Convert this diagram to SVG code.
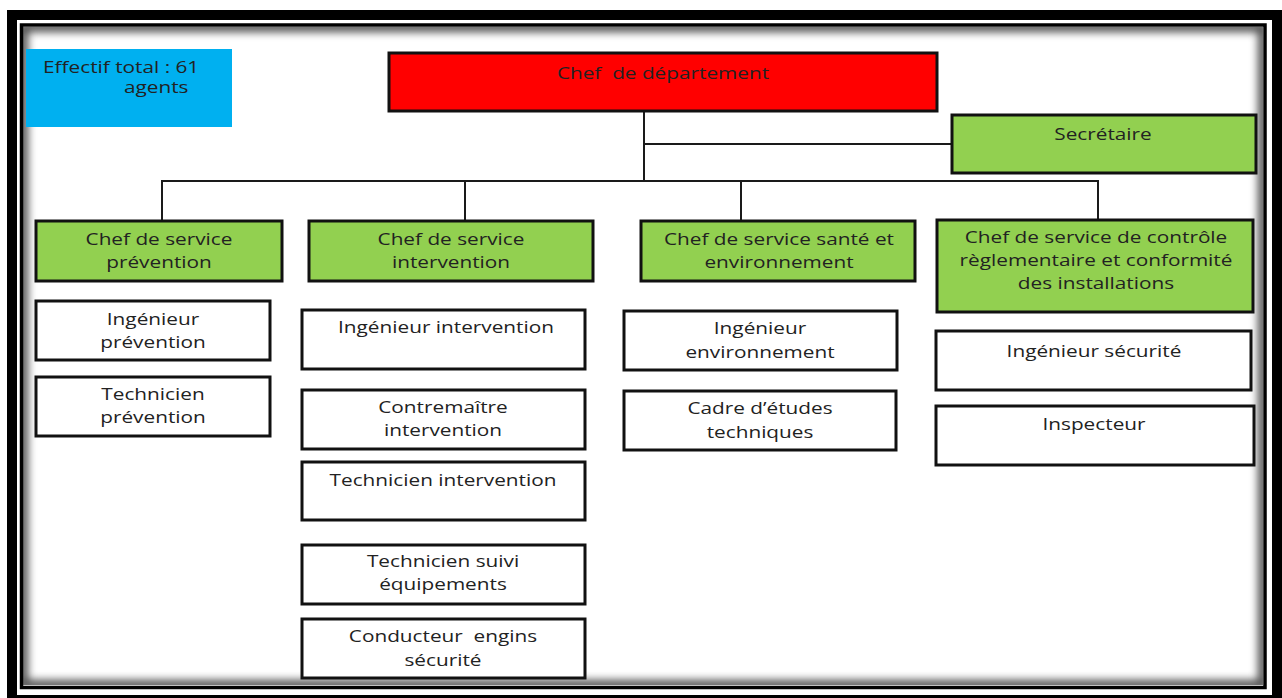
<svg xmlns="http://www.w3.org/2000/svg" width="1282" height="698" viewBox="0 0 1282 698">
<style>
text{font-family:"Open Sans","Noto Sans",sans-serif;font-size:16.5px;fill:#222;text-anchor:middle;white-space:pre}
.s{text-anchor:start}
.g{fill:#92D050;stroke:#111;stroke-width:3}
.w{fill:#fff;stroke:#111;stroke-width:3}
.c{fill:none;stroke:#1a1a1a;stroke-width:2}
</style>
<defs>
<clipPath id="inner"><rect x="23" y="27" width="1240" height="658"/></clipPath>
<filter id="blur" x="-5%" y="-5%" width="110%" height="110%"><feGaussianBlur stdDeviation="4"/></filter>
</defs>
<rect width="1282" height="698" fill="#fff"/>
<g id="frame">
<g clip-path="url(#inner)"><rect x="23" y="27" width="1240" height="658" fill="none" stroke="#000" stroke-width="10" filter="url(#blur)" opacity="0.7"/></g>
<rect x="12" y="15" width="1265" height="685" fill="none" stroke="#000" stroke-width="10"/>
<rect x="21.5" y="25" width="1243.5" height="662.5" fill="none" stroke="#000" stroke-width="3.5"/>
</g>
<g id="connectors">
<path class="c" d="M644 111V181M644 144H952M162 221V181H1098V220M465 181V221M741 181V221"/>
</g>
<g id="effectif">
<rect x="26" y="49" width="206" height="78" fill="#00B0F0"/>
<text class="s" transform="translate(43 73) scale(1.26 1)">Effectif total : 61</text>
<text class="s" transform="translate(124 93) scale(1.26 1)">agents</text>
</g>
<g id="chef-departement">
<rect x="389" y="53" width="548" height="58" fill="#FF0000" stroke="#111" stroke-width="3"/>
<text transform="translate(663 79) scale(1.26 1)">Chef  de département</text>
</g>
<g id="secretaire">
<rect class="g" x="952" y="115" width="304" height="58"/>
<text transform="translate(1103 140) scale(1.26 1)">Secrétaire</text>
</g>
<g id="cs-prevention">
<rect class="g" x="36" y="221" width="246" height="60"/>
<text transform="translate(159 245) scale(1.26 1)">Chef de service</text>
<text transform="translate(159 268) scale(1.26 1)">prévention</text>
</g>
<g id="cs-intervention">
<rect class="g" x="309" y="221" width="284" height="60"/>
<text transform="translate(451 245) scale(1.26 1)">Chef de service</text>
<text transform="translate(451 268) scale(1.26 1)">intervention</text>
</g>
<g id="cs-sante">
<rect class="g" x="641" y="221" width="274" height="60"/>
<text transform="translate(779 245) scale(1.26 1)">Chef de service santé et</text>
<text transform="translate(779 268) scale(1.26 1)">environnement</text>
</g>
<g id="cs-controle">
<rect class="g" x="937" y="220" width="316" height="92"/>
<text transform="translate(1096 243) scale(1.26 1)">Chef de service de contrôle</text>
<text transform="translate(1096 266) scale(1.26 1)">règlementaire et conformité</text>
<text transform="translate(1096 289) scale(1.26 1)">des installations</text>
</g>
<g id="ing-prevention">
<rect class="w" x="36" y="301" width="234" height="59"/>
<text transform="translate(153 325) scale(1.26 1)">Ingénieur</text>
<text transform="translate(153 348) scale(1.26 1)">prévention</text>
</g>
<g id="tech-prevention">
<rect class="w" x="36" y="377" width="234" height="59"/>
<text transform="translate(153 400) scale(1.26 1)">Technicien</text>
<text transform="translate(153 423) scale(1.26 1)">prévention</text>
</g>
<g id="ing-intervention">
<rect class="w" x="302" y="310" width="283" height="59"/>
<text transform="translate(446 333) scale(1.26 1)">Ingénieur intervention</text>
</g>
<g id="contremaitre">
<rect class="w" x="302" y="390" width="283" height="59"/>
<text transform="translate(443 413) scale(1.26 1)">Contremaître</text>
<text transform="translate(443 436) scale(1.26 1)">intervention</text>
</g>
<g id="tech-intervention">
<rect class="w" x="302" y="462" width="283" height="58"/>
<text transform="translate(443 486) scale(1.26 1)">Technicien intervention</text>
</g>
<g id="tech-suivi">
<rect class="w" x="302" y="545" width="283" height="59"/>
<text transform="translate(443 567) scale(1.26 1)">Technicien suivi</text>
<text transform="translate(443 590) scale(1.26 1)">équipements</text>
</g>
<g id="conducteur">
<rect class="w" x="302" y="619" width="283" height="59"/>
<text transform="translate(443 642) scale(1.26 1)">Conducteur  engins</text>
<text transform="translate(443 666) scale(1.26 1)">sécurité</text>
</g>
<g id="ing-environnement">
<rect class="w" x="624" y="311" width="273" height="59"/>
<text transform="translate(760 334) scale(1.26 1)">Ingénieur</text>
<text transform="translate(760 358) scale(1.26 1)">environnement</text>
</g>
<g id="cadre-etudes">
<rect class="w" x="624" y="391" width="272" height="59"/>
<text transform="translate(760 414) scale(1.26 1)">Cadre d’études</text>
<text transform="translate(760 438) scale(1.26 1)">techniques</text>
</g>
<g id="ing-securite">
<rect class="w" x="936" y="331" width="315" height="59"/>
<text transform="translate(1094 357) scale(1.26 1)">Ingénieur sécurité</text>
</g>
<g id="inspecteur">
<rect class="w" x="936" y="406" width="318" height="59"/>
<text transform="translate(1094 430) scale(1.26 1)">Inspecteur</text>
</g>
</svg>
